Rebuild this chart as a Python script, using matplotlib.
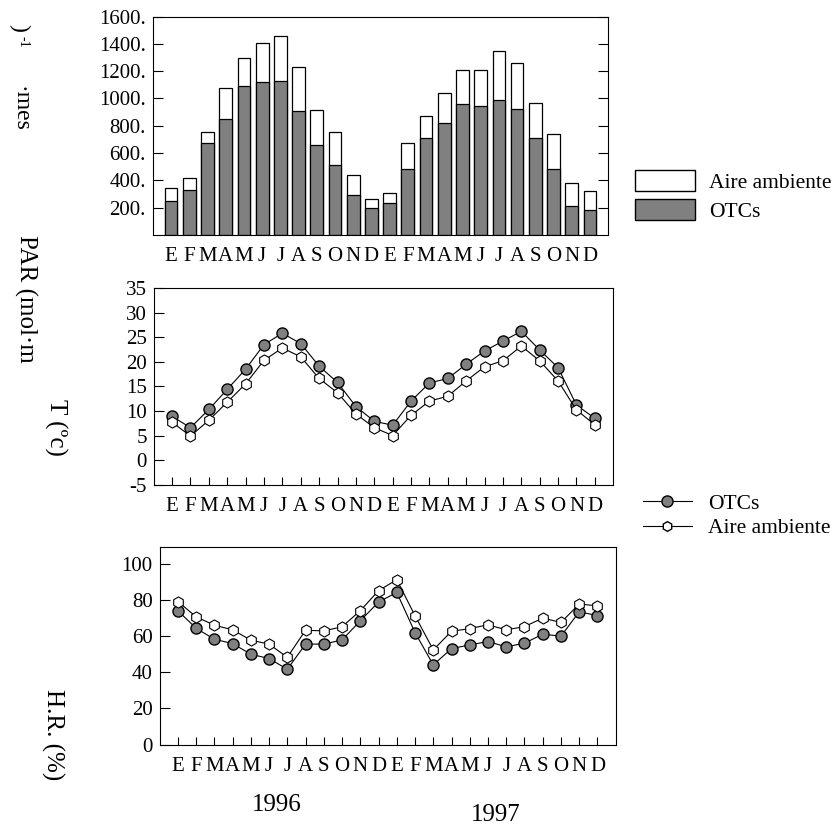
import numpy as np
import matplotlib.pyplot as plt
from matplotlib.patches import Patch
from matplotlib.lines import Line2D

plt.rcParams['font.family'] = ['Liberation Serif', 'DejaVu Serif']
plt.rcParams['axes.unicode_minus'] = False

meses = ['E', 'F', 'M', 'A', 'M', 'J', 'J', 'A', 'S', 'O', 'N', 'D'] * 2

# PAR mensual (mol m-2 mes-1)
par_aire = [343, 419, 756, 1074, 1299, 1406, 1457, 1230, 918, 756, 441, 265,
            309, 673, 874, 1037, 1206, 1208, 1347, 1259, 969, 739, 383, 319]
par_otc = [246, 331, 673, 852, 1094, 1123, 1130, 910, 658, 509, 292, 199,
           236, 485, 712, 822, 962, 944, 986, 922, 707, 480, 211, 185]

# temperatura media (ºc)
t_otc = [8.9, 6.6, 10.3, 14.4, 18.5, 23.5, 25.8, 23.7, 19.1, 15.8, 10.9, 7.9,
         7.1, 12.0, 15.7, 16.6, 19.5, 22.2, 24.2, 26.2, 22.4, 18.8, 11.2, 8.5]
t_aire = [7.7, 4.9, 8.1, 11.8, 15.5, 20.3, 22.8, 21.0, 16.6, 13.7, 9.4, 6.6,
          5.0, 9.1, 12.0, 13.0, 16.1, 19.0, 20.2, 23.2, 20.2, 16.1, 10.2, 7.2]

# humedad relativa (%)
hr_otc = [74.1, 64.4, 58.3, 55.9, 50.0, 47.6, 41.7, 55.6, 55.6, 57.9, 68.5, 78.9,
          84.2, 62.0, 44.1, 53.1, 55.2, 57.0, 54.1, 56.1, 61.1, 60.0, 73.5, 71.4]
hr_aire = [79.2, 70.7, 66.1, 63.5, 57.8, 55.6, 48.3, 63.3, 62.9, 65.2, 74.1, 85.2,
           91.3, 71.3, 52.4, 62.7, 64.2, 66.3, 63.5, 65.3, 70.0, 67.6, 77.8, 76.8]

x = np.arange(1, 25)
gris = '#808080'
fs = 15

fig = plt.figure(figsize=(8.4, 8.3), dpi=100)

# --- PAR ---
ax1 = fig.add_axes([0.182, 0.717, 0.542, 0.263])
ax1.bar(x, par_aire, width=0.7, color='white', edgecolor='black', linewidth=0.9)
ax1.bar(x, par_otc, width=0.7, color=gris, edgecolor='black', linewidth=0.9)
ax1.set_xlim(0, 25)
ax1.set_ylim(0, 1600)
ax1.set_yticks(range(200, 1601, 200))
ax1.set_yticklabels(['%d.' % v for v in range(200, 1601, 200)])
ax1.set_xticks(x)
ax1.set_xticklabels(meses)
ax1.tick_params(axis='y', direction='in', length=7, left=True, right=True, labelsize=fs, pad=5)
ax1.tick_params(axis='x', length=0, labelsize=fs, pad=9)

fig.legend(handles=[Patch(facecolor='white', edgecolor='black', label='Aire ambiente'),
                    Patch(facecolor=gris, edgecolor='black', label='OTCs')],
           loc='upper left', bbox_to_anchor=(0.756, 0.795), frameon=False,
           fontsize=15.5, handlelength=2.8, handleheight=1.1, handletextpad=0.65,
           labelspacing=0.3, borderpad=0, borderaxespad=0)

# --- Temperatura ---
ax2 = fig.add_axes([0.183, 0.416, 0.547, 0.237])
ax2.plot(x, t_otc, '-o', color='black', lw=0.8, ms=8, mfc=gris, mec='black', mew=1)
ax2.plot(x, t_aire, '-h', color='black', lw=0.8, ms=8, mfc='white', mec='black', mew=0.8)
ax2.set_xlim(0, 25)
ax2.set_ylim(-5, 35)
ax2.set_yticks(range(-5, 36, 5))
ax2.set_xticks(x)
ax2.set_xticklabels(meses)
ax2.tick_params(axis='y', direction='in', length=7, labelsize=fs, pad=5)
ax2.tick_params(axis='x', direction='in', length=6, labelsize=fs, pad=9)

fig.legend(handles=[Line2D([], [], color='black', lw=0.8, marker='o', ms=8, mfc=gris, mec='black', label='OTCs'),
                    Line2D([], [], color='black', lw=0.8, marker='h', ms=7, mfc='white', mec='black', label='Aire ambiente')],
           loc='upper left', bbox_to_anchor=(0.765, 0.405), frameon=False,
           fontsize=15.5, handlelength=2.3, handletextpad=0.75,
           labelspacing=0.2, borderpad=0, borderaxespad=0)

# --- Humedad relativa ---
ax3 = fig.add_axes([0.19, 0.103, 0.543, 0.238])
ax3.plot(x, hr_otc, '-o', color='black', lw=0.8, ms=8, mfc=gris, mec='black', mew=1)
ax3.plot(x, hr_aire, '-h', color='black', lw=0.8, ms=8, mfc='white', mec='black', mew=0.8)
ax3.set_xlim(0, 25)
ax3.set_ylim(0, 109.4)
ax3.set_yticks(range(0, 101, 20))
ax3.set_xticks(x)
ax3.set_xticklabels(meses)
ax3.tick_params(axis='y', direction='in', length=7, labelsize=fs, pad=5)
ax3.tick_params(axis='x', direction='in', length=6, labelsize=fs, pad=9)

# etiquetas de los ejes (texto partido como en el original)
fig.text(0.022, 0.966, ')', rotation=270, fontsize=17, ha='center', va='center')
fig.text(0.027, 0.950, '-1', rotation=270, fontsize=10, ha='center', va='center')
fig.text(0.024, 0.869, '\u00b7mes', rotation=270, fontsize=17, ha='center', va='center')
fig.text(0.030, 0.640, 'PAR (mol\u00b7m', rotation=270, fontsize=18, ha='center', va='center')
fig.text(0.066, 0.485, 'T (\u00bac)', rotation=270, fontsize=18, ha='center', va='center')
fig.text(0.062, 0.115, 'H.R. (%)', rotation=270, fontsize=18, ha='center', va='center')

fig.text(0.330, 0.030, '1996', fontsize=18, ha='center', va='center')
fig.text(0.590, 0.018, '1997', fontsize=18, ha='center', va='center')

plt.savefig('out.png', dpi=100)
